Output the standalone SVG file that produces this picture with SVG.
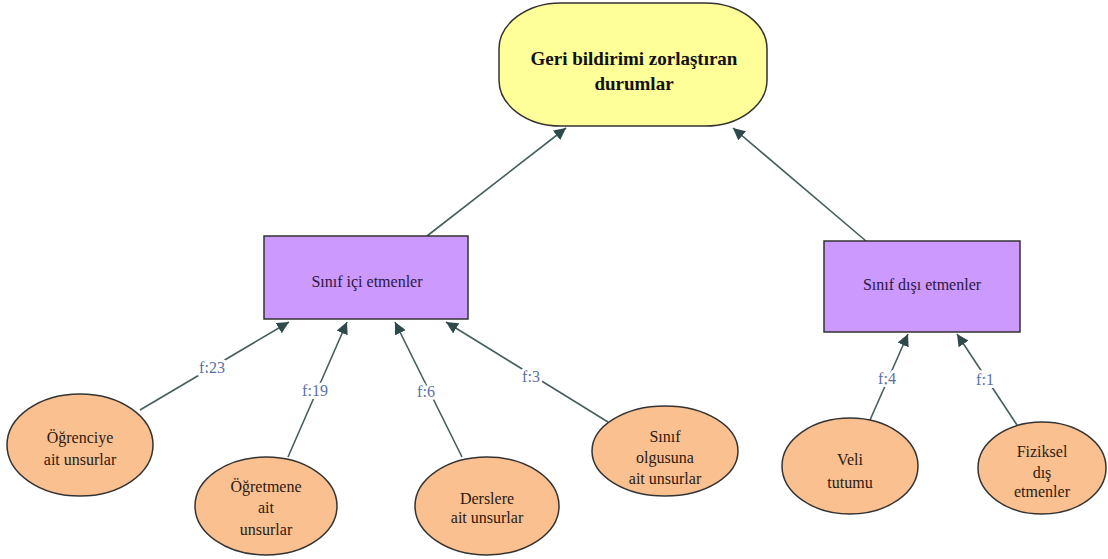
<svg xmlns="http://www.w3.org/2000/svg" width="1108" height="559" viewBox="0 0 1108 559" font-family="'Liberation Serif', 'DejaVu Serif', serif">
<style>
text{font-family:"Liberation Serif","DejaVu Serif",serif;text-anchor:middle}
.top{fill:#FFFF99;stroke:#333;stroke-width:1.5}
.box{fill:#CC99FF;stroke:#333;stroke-width:1.5}
.ell{fill:#FAC090;stroke:#333;stroke-width:1.5}
.t1{font-size:19px;font-weight:bold;fill:#111}
.t2{font-size:16px;fill:#2a1840}
.t3{font-size:16px;fill:#2b1a10}
.edge{stroke:#465E5E;stroke-width:1.6;fill:none;marker-end:url(#ah)}
.lbl{font-size:16px;fill:#5B6FA6;stroke:#fff;stroke-width:6;paint-order:stroke;stroke-linejoin:round}
</style>
<defs>
<marker id="ah" viewBox="0 0 10 10" refX="10" refY="5" markerWidth="12" markerHeight="12" markerUnits="userSpaceOnUse" orient="auto">
<path d="M0,0 L10,5 L0,10 z" fill="#2F4A4A"/>
</marker>
</defs>
<rect width="1108" height="559" fill="#fff"/>
<g id="connectors">
<line class="edge" x1="427" y1="236" x2="566" y2="128"/>
<line class="edge" x1="866" y1="241" x2="733" y2="128"/>
<line class="edge" x1="140" y1="410" x2="289" y2="322"/>
<line class="edge" x1="288" y1="457" x2="347" y2="322"/>
<line class="edge" x1="462" y1="457" x2="395" y2="322"/>
<line class="edge" x1="608" y1="422" x2="446" y2="322"/>
<line class="edge" x1="870" y1="420" x2="908" y2="334"/>
<line class="edge" x1="1017" y1="425" x2="957" y2="334"/>
<text class="lbl" x="212" y="373">f:23</text>
<text class="lbl" x="315" y="396">f:19</text>
<text class="lbl" x="426" y="397">f:6</text>
<text class="lbl" x="531" y="382">f:3</text>
<text class="lbl" x="887" y="384">f:4</text>
<text class="lbl" x="985" y="385">f:1</text>
</g>
<g id="n-top">
<rect class="top" x="499" y="3" width="268" height="123" rx="62" ry="46"/>
<text class="t1" x="634" y="65">Geri bildirimi zorlaştıran</text>
<text class="t1" x="634" y="90">durumlar</text>
</g>
<g id="n-ici">
<rect class="box" x="264" y="236" width="204" height="83"/>
<text class="t2" x="367" y="287">Sınıf içi etmenler</text>
</g>
<g id="n-disi">
<rect class="box" x="824" y="241" width="196" height="91"/>
<text class="t2" x="922" y="290">Sınıf dışı etmenler</text>
</g>
<g id="n-ogrenci">
<ellipse class="ell" cx="80" cy="445" rx="73" ry="51"/>
<text class="t3" x="80" y="443">Öğrenciye</text>
<text class="t3" x="80" y="465">ait unsurlar</text>
</g>
<g id="n-ogretmen">
<ellipse class="ell" cx="266" cy="506" rx="71" ry="49"/>
<text class="t3" x="266" y="492">Öğretmene</text>
<text class="t3" x="266" y="513">ait</text>
<text class="t3" x="266" y="535">unsurlar</text>
</g>
<g id="n-ders">
<ellipse class="ell" cx="487" cy="506" rx="72" ry="49"/>
<text class="t3" x="487" y="504">Derslere</text>
<text class="t3" x="487" y="523">ait unsurlar</text>
</g>
<g id="n-sinif">
<ellipse class="ell" cx="665" cy="451" rx="73" ry="45"/>
<text class="t3" x="665" y="442">Sınıf</text>
<text class="t3" x="665" y="463">olgusuna</text>
<text class="t3" x="665" y="484">ait unsurlar</text>
</g>
<g id="n-veli">
<ellipse class="ell" cx="850" cy="466" rx="68" ry="48"/>
<text class="t3" x="850" y="465">Veli</text>
<text class="t3" x="850" y="488">tutumu</text>
</g>
<g id="n-fiziksel">
<ellipse class="ell" cx="1042" cy="468" rx="64" ry="46"/>
<text class="t3" x="1042" y="457">Fiziksel</text>
<text class="t3" x="1042" y="478">dış</text>
<text class="t3" x="1042" y="497">etmenler</text>
</g>
</svg>
